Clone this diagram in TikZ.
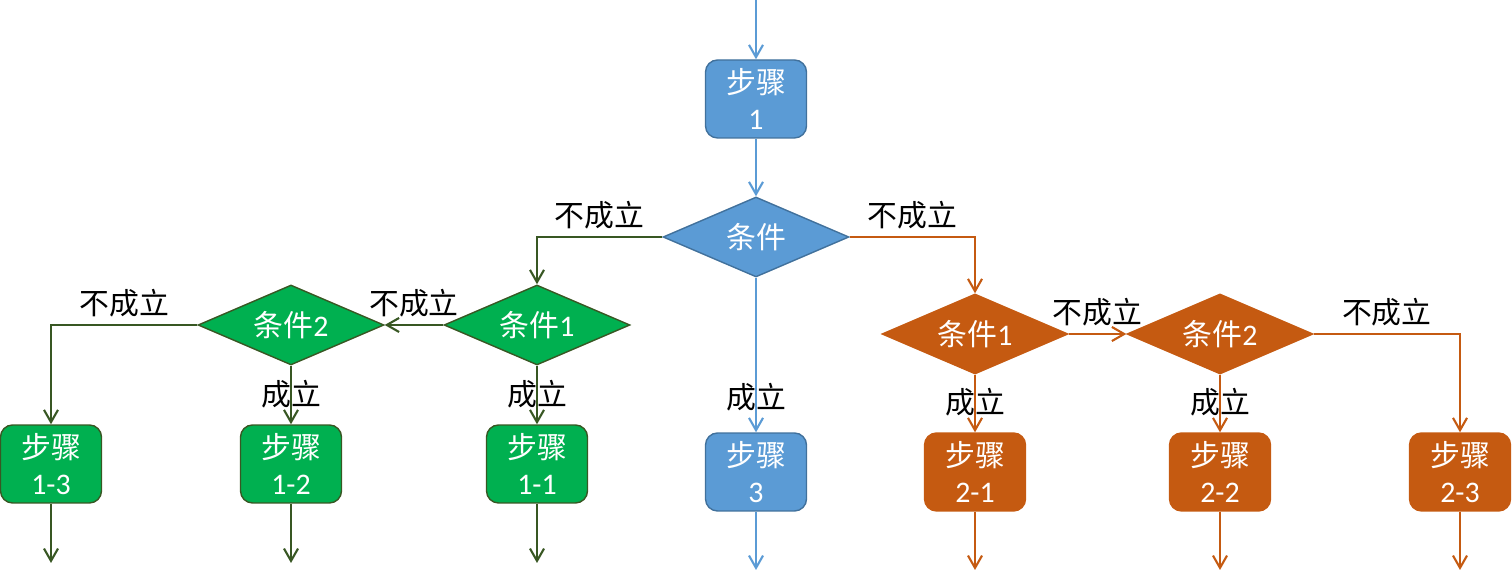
\documentclass[tikz,border=0pt]{standalone}
\usepackage{fontspec}
\setmainfont{Carlito}
\newfontfamily\cjk{Noto Sans CJK SC}
\usetikzlibrary{shapes.geometric, positioning, arrows.meta}

\begin{document}
\begin{tikzpicture}[x=0.02cm, y=-0.02cm,
    every node/.style={font=\fontsize{17}{20}\selectfont},
    stepbox/.style={rounded corners=0.24cm, minimum width=2.02cm, minimum height=1.56cm,
        align=center, text=white, line width=0.8pt, inner sep=0pt},
    condbox/.style={diamond, aspect=2.3, minimum width=3.72cm, minimum height=1.6cm,
        inner sep=0pt, text=white, line width=0.8pt},
    flow/.style={line width=1.2pt, -{Straight Barb[length=7pt,width=8pt]}},
    lbl/.style={inner sep=4pt, text=black}]

    % Цвета
    \definecolor{blue1}{RGB}{91,155,213}
    \definecolor{blueline}{RGB}{65,113,156}
    \definecolor{green1}{RGB}{0,176,80}
    \definecolor{green2}{RGB}{56,87,35}
    \definecolor{orange1}{RGB}{197,90,17}

    % Рамка картинки
    \useasboundingbox (0,0) rectangle (1512,573);

    % Центральная ветка
    \coordinate (top) at (756,0);
    \node[stepbox, fill=blue1, draw=blueline] (s1) at (756,99) {{\cjk 步骤}\\1};
    \node[condbox, fill=blue1, draw=blueline] (c0) at (756,237) {\cjk 条件};
    \node[stepbox, fill=blue1, draw=blueline] (s3) at (756,472) {{\cjk 步骤}\\3};
    \coordinate (e3) at (756,570);

    % Левая ветка
    \node[condbox, fill=green1, draw=green2] (g1) at (537,325) {{\cjk 条件}1};
    \node[condbox, fill=green1, draw=green2] (g2) at (291,325) {{\cjk 条件}2};
    \node[stepbox, fill=green1, draw=green2] (s11) at (537,464) {{\cjk 步骤}\\1-1};
    \node[stepbox, fill=green1, draw=green2] (s12) at (291,464) {{\cjk 步骤}\\1-2};
    \node[stepbox, fill=green1, draw=green2] (s13) at (51,464) {{\cjk 步骤}\\1-3};
    \coordinate (e11) at (537,563);
    \coordinate (e12) at (291,563);
    \coordinate (e13) at (51,563);

    % Правая ветка
    \node[condbox, fill=orange1, draw=orange1] (o1) at (975,334) {{\cjk 条件}1};
    \node[condbox, fill=orange1, draw=orange1] (o2) at (1220,334) {{\cjk 条件}2};
    \node[stepbox, fill=orange1, draw=orange1] (s21) at (975,472) {{\cjk 步骤}\\2-1};
    \node[stepbox, fill=orange1, draw=orange1] (s22) at (1220,472) {{\cjk 步骤}\\2-2};
    \node[stepbox, fill=orange1, draw=orange1] (s23) at (1460,472) {{\cjk 步骤}\\2-3};
    \coordinate (e21) at (975,570);
    \coordinate (e22) at (1220,570);
    \coordinate (e23) at (1460,570);

    % Стрелки центральной ветки
    \draw[flow, blue1] (top) -- (s1);
    \draw[flow, blue1] (s1) -- (c0);
    \draw[flow, blue1] (c0) -- node[lbl, pos=.77] {\cjk 成立} (s3);
    \draw[flow, blue1] (s3) -- (e3);

    % Стрелки левой ветки
    \draw[flow, green2] (c0.west) -| node[lbl, above, pos=.25] {\cjk 不成立} (g1.north);
    \draw[flow, green2] (g1.west) -- node[lbl, above] {\cjk 不成立} (g2.east);
    \draw[flow, green2] (g2.west) -| node[lbl, above, pos=.25] {\cjk 不成立} (s13.north);
    \draw[flow, green2] (g1) -- node[lbl, pos=.48] {\cjk 成立} (s11);
    \draw[flow, green2] (g2) -- node[lbl, pos=.48] {\cjk 成立} (s12);
    \draw[flow, green2] (s11) -- (e11);
    \draw[flow, green2] (s12) -- (e12);
    \draw[flow, green2] (s13) -- (e13);

    % Стрелки правой ветки
    \draw[flow, orange1] (c0.east) -| node[lbl, above, pos=.25] {\cjk 不成立} (o1.north);
    \draw[flow, orange1] (o1.east) -- node[lbl, above] {\cjk 不成立} (o2.west);
    \draw[flow, orange1] (o2.east) -| node[lbl, above, pos=.25] {\cjk 不成立} (s23.north);
    \draw[flow, orange1] (o1) -- node[lbl, pos=.48] {\cjk 成立} (s21);
    \draw[flow, orange1] (o2) -- node[lbl, pos=.48] {\cjk 成立} (s22);
    \draw[flow, orange1] (s21) -- (e21);
    \draw[flow, orange1] (s22) -- (e22);
    \draw[flow, orange1] (s23) -- (e23);

\end{tikzpicture}
\end{document}
